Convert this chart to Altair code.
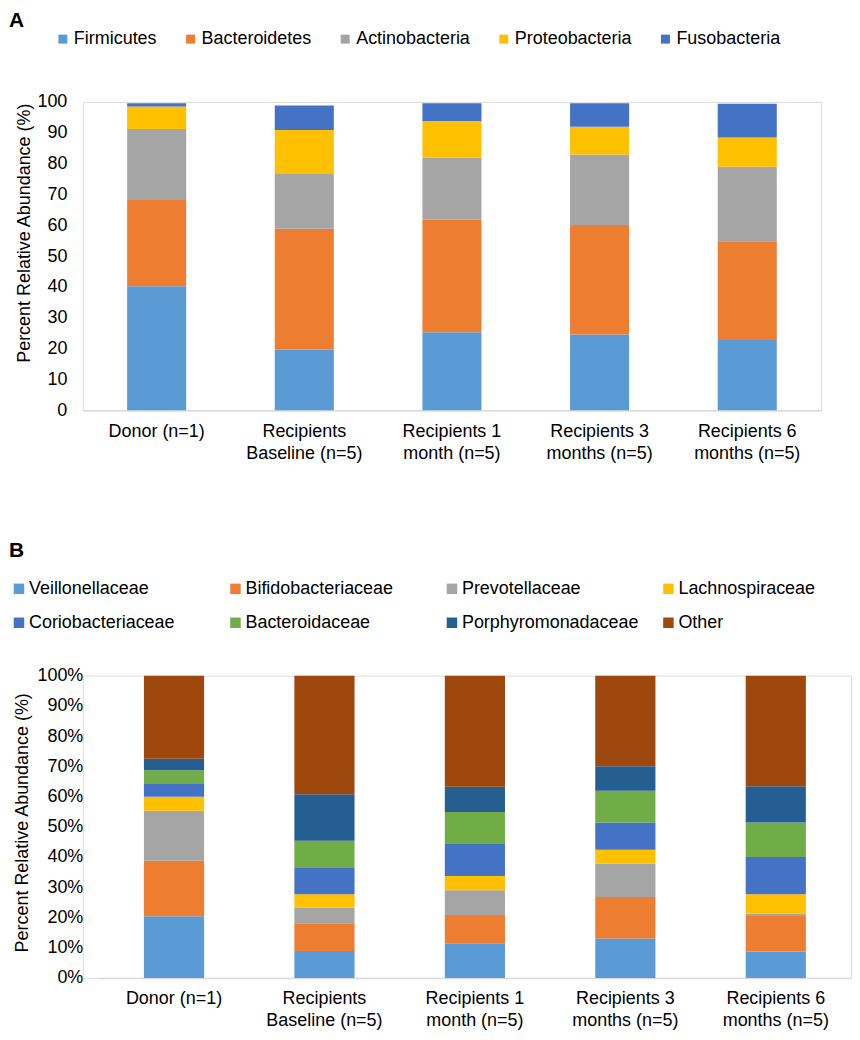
import altair as alt
import pandas as pd

# ---------------- data ----------------
groups = [
    "Donor (n=1)",
    "Recipients\nBaseline (n=5)",
    "Recipients 1\nmonth (n=5)",
    "Recipients 3\nmonths (n=5)",
    "Recipients 6\nmonths (n=5)",
]

# Panel A: phyla (percent relative abundance)
phyla = ["Firmicutes", "Bacteroidetes", "Actinobacteria", "Proteobacteria", "Fusobacteria"]
phyla_colors = ["#5B9BD5", "#ED7D31", "#A5A5A5", "#FFC000", "#4472C4"]
firmicutes = [40.2, 19.7, 25.3, 24.6, 22.8]
bacteroidetes = [28.0, 39.2, 36.5, 35.5, 32.0]
actinobacteria = [23.0, 18.0, 20.2, 22.9, 24.2]
proteobacteria = [7.3, 14.0, 11.8, 9.0, 9.5]
fusobacteria = [1.1, 8.0, 5.8, 7.6, 10.9]

# Panel B: families (percent relative abundance)
families = ["Veillonellaceae", "Bifidobacteriaceae", "Prevotellaceae", "Lachnospiraceae",
            "Coriobacteriaceae", "Bacteroidaceae", "Porphyromonadaceae", "Other"]
family_colors = ["#5B9BD5", "#ED7D31", "#A5A5A5", "#FFC000",
                 "#4472C4", "#70AD47", "#255E91", "#9E480E"]
veillonellaceae = [20.4, 8.9, 11.3, 13.0, 8.7]
bifidobacteriaceae = [18.4, 9.2, 9.5, 13.8, 11.8]
prevotellaceae = [16.5, 5.2, 8.2, 11.0, 0.7]
lachnospiraceae = [4.6, 4.4, 4.7, 4.6, 6.5]
coriobacteriaceae = [4.5, 8.7, 10.6, 9.0, 12.3]
bacteroidaceae = [4.3, 9.0, 10.6, 10.5, 11.4]
porphyromonadaceae = [3.8, 15.4, 8.3, 8.1, 12.0]
other = [27.5, 39.2, 36.8, 30.0, 36.6]

FONT = "Liberation Sans"


def to_long(names, series, key):
    rows = []
    for si, (name, vals) in enumerate(zip(names, series)):
        for g, v in zip(groups, vals):
            rows.append({"group": g, key: name, "order": si, "value": v})
    return pd.DataFrame(rows)


df_a = to_long(phyla, [firmicutes, bacteroidetes, actinobacteria, proteobacteria, fusobacteria],
               "phylum")
df_b = to_long(families, [veillonellaceae, bifidobacteriaceae, prevotellaceae, lachnospiraceae,
                          coriobacteriaceae, bacteroidaceae, porphyromonadaceae, other],
               "family")


def x_enc(scale):
    return alt.X(
        "group:N", sort=groups, title=None,
        scale=scale,
        axis=alt.Axis(labelAngle=0, labelExpr="split(datum.label, '\\n')",
                      labelFontSize=18, labelColor="#000000", labelFont=FONT,
                      labelPadding=12, labelLineHeight=22, ticks=False,
                      domainColor="#D9D9D9", domainWidth=1.5, labelLimit=300),
    )


chart_a = alt.Chart(df_a).mark_bar().encode(
    x=x_enc(alt.Scale(paddingInner=0.6, paddingOuter=0.3)),
    y=alt.Y("value:Q", stack="zero",
            scale=alt.Scale(domain=[0, 100], nice=False),
            axis=alt.Axis(values=list(range(0, 101, 10)), grid=False, domain=False, ticks=False,
                          labelPadding=16, labelFontSize=18, labelColor="#000000", labelFont=FONT,
                          title="Percent Relative Abundance (%)", titleFontSize=18,
                          titleFontWeight="normal", titleColor="#000000", titleFont=FONT,
                          titleAngle=270, titleX=-58, titleY=131,
                          titleAlign="center", titleBaseline="middle")),
    color=alt.Color("phylum:N",
                    scale=alt.Scale(domain=phyla, range=phyla_colors),
                    legend=alt.Legend(orient="none", legendX=-29, legendY=-72,
                                      direction="horizontal", columns=5, title=None,
                                      symbolType="square", symbolSize=81, symbolStrokeWidth=0,
                                      labelFontSize=18, labelFont=FONT, labelColor="#000000",
                                      labelOffset=2, columnPadding=24)),
    order=alt.Order("order:Q", sort="ascending"),
).properties(
    width=740, height=309,
    title=alt.TitleParams("A", anchor="start", frame="group", dx=-74, fontSize=21,
                          fontWeight="bold", font=FONT, color="#000000", offset=-1),
)

chart_b = alt.Chart(df_b).mark_bar().encode(
    x=x_enc(alt.Scale(paddingInner=0.6, paddingOuter=0.3, range=[16, 770])),
    y=alt.Y("value:Q", stack="normalize",
            scale=alt.Scale(domain=[0, 1], nice=False),
            axis=alt.Axis(values=[i / 10 for i in range(11)], format=".0%", grid=False,
                          domain=False, ticks=False,
                          labelPadding=0, labelFontSize=18, labelColor="#000000", labelFont=FONT,
                          title="Percent Relative Abundance (%)", titleFontSize=18,
                          titleFontWeight="normal", titleColor="#000000", titleFont=FONT,
                          titleAngle=270, titleX=-60, titleY=147,
                          titleAlign="center", titleBaseline="middle")),
    color=alt.Color("family:N",
                    scale=alt.Scale(domain=families, range=family_colors),
                    legend=alt.Legend(orient="none", legendX=-73, legendY=-96,
                                      direction="horizontal", columns=4, title=None,
                                      gridAlign="all", labelLimit=300,
                                      symbolType="square", symbolSize=110, symbolStrokeWidth=0,
                                      labelFontSize=18, labelFont=FONT, labelColor="#000000",
                                      labelOffset=1, columnPadding=20, rowPadding=16)),
    order=alt.Order("order:Q", sort="ascending"),
).properties(
    width=770, height=303,
    title=alt.TitleParams("B", anchor="start", frame="group", dx=-74, fontSize=21,
                          fontWeight="bold", font=FONT, color="#000000", offset=19),
)

chart = alt.vconcat(chart_a, chart_b, spacing=76).resolve_scale(
    color="independent"
).resolve_legend(color="independent").properties(
    padding=0
).configure_view(stroke=None).configure(font=FONT)

chart.save("out.html", embed_options={"renderer": "svg", "actions": False})
